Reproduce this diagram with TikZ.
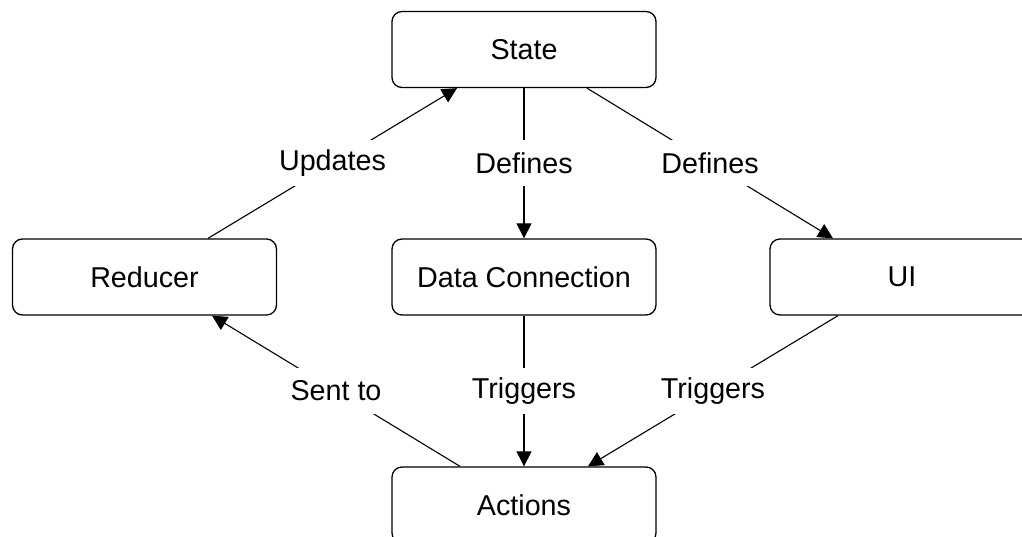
\documentclass[tikz,border=0pt]{standalone}
\usepackage{fontspec}
\setmainfont{Liberation Sans}
\usetikzlibrary{arrows.meta}
\begin{document}
\begin{tikzpicture}[x=1pt,y=-1pt,
  box/.style={draw, line width=1.3pt, rounded corners=10pt, minimum width=264pt, minimum height=76pt, inner sep=0pt, font=\fontsize{28.7}{34}\selectfont},
  conn/.style={line width=1.1pt, -{Triangle[length=15pt,width=15pt]}},
  lbl/.style={fill=white, inner xsep=2pt, inner ysep=0pt, minimum height=46pt, font=\fontsize{28.7}{34}\selectfont}]
\useasboundingbox (0,0) rectangle (1022,537);
\clip (0,0) rectangle (1022,537);
\node[box] (state) at (524,49.5) {State};
\node[box] (reducer) at (144.5,277) {Reducer};
\node[box] (dc) at (524,277) {Data Connection};
\node[box] (ui) at (902,277) {UI};
\node[box] (actions) at (524,505) {Actions};
\draw[conn] ([xshift=63.5pt]reducer.north) -- node[lbl]{Updates} ([xshift=-67pt]state.south);
\draw[conn] (state.south) -- node[lbl]{Defines} (dc.north);
\draw[conn] ([xshift=63pt]state.south) -- node[lbl]{Defines} ([xshift=-69pt]ui.north);
\draw[conn] ([xshift=-64pt]actions.north) -- node[lbl]{Sent to} ([xshift=67.5pt]reducer.south);
\draw[conn] (dc.south) -- node[lbl]{Triggers} (actions.north);
\draw[conn] ([xshift=-64pt]ui.south) -- node[lbl]{Triggers} ([xshift=64pt]actions.north);
\end{tikzpicture}
\end{document}
